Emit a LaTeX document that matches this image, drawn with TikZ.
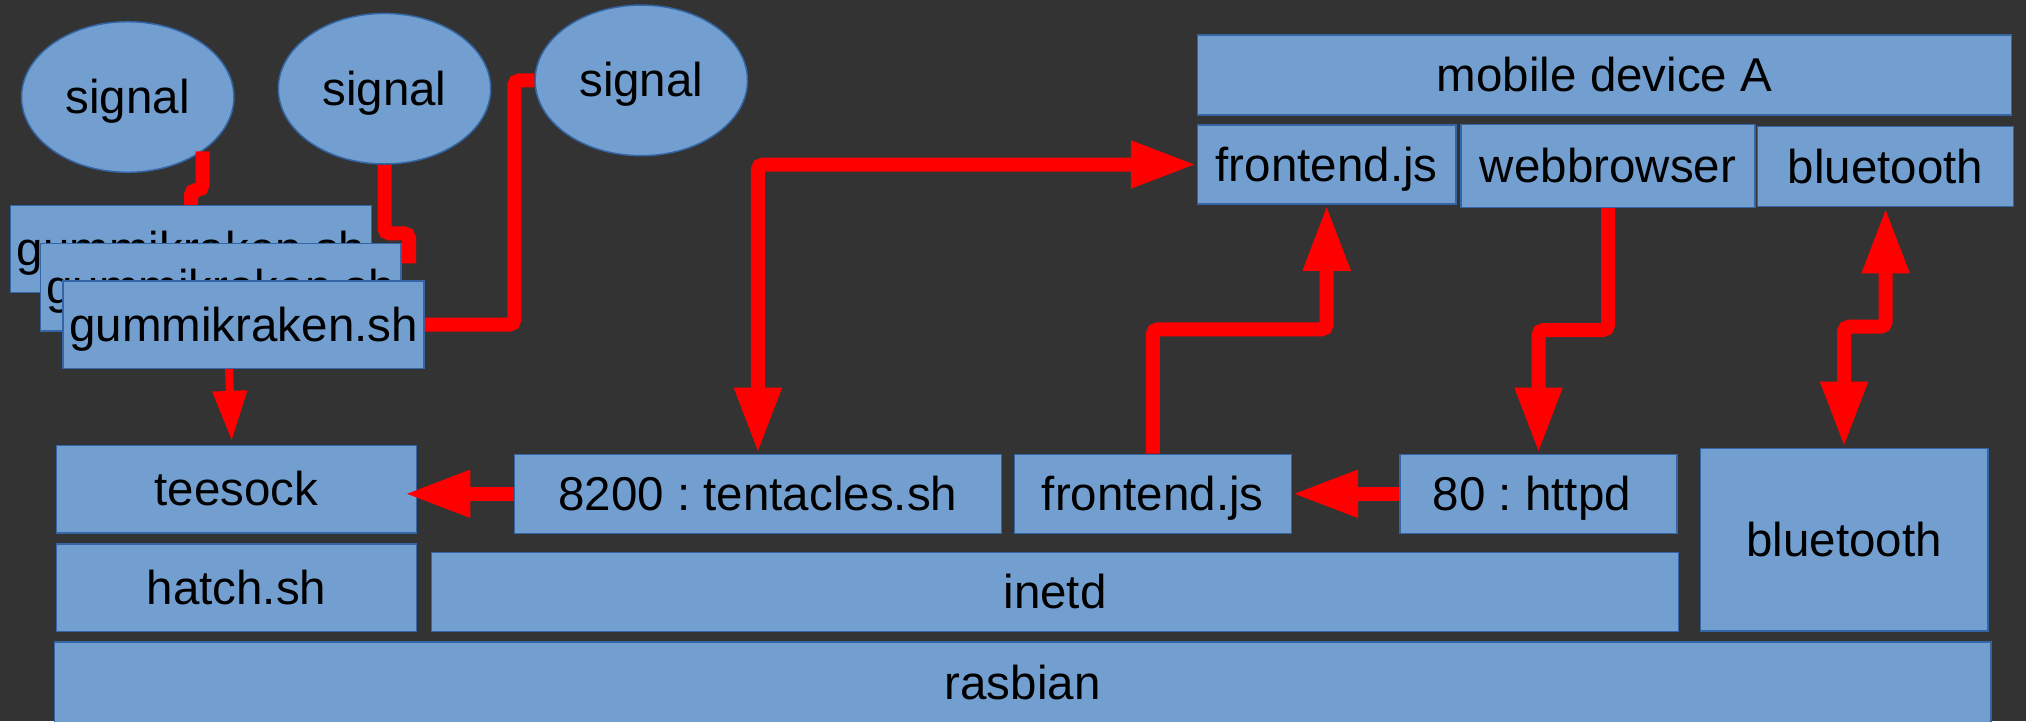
\documentclass[tikz,border=0pt]{standalone}
\usepackage{fontspec}
\setmainfont{Liberation Sans}
\frenchspacing
\usetikzlibrary{arrows.meta,shapes.geometric,calc}
\definecolor{bgc}{HTML}{333333}
\definecolor{boxfill}{HTML}{729FCF}
\definecolor{boxline}{HTML}{3465A4}
\definecolor{wire}{HTML}{FF0000}
\tikzset{
  blk/.style={rectangle, draw=boxline, fill=boxfill, line width=1.5pt, inner sep=0pt,
    font=\fontsize{47.5}{57}\selectfont\frenchspacing, text=black, text height=43pt, text depth=10pt},
  oval/.style={blk, ellipse, minimum width=212.4pt, minimum height=150.6pt},
  wireline/.style={draw=wire, line width=14pt, rounded corners=5pt},
  bigtip/.style={wireline, -{Triangle[length=66pt,width=44pt]}},
  bigtwo/.style={wireline, {Triangle[length=66pt,width=44pt]}-{Triangle[length=66pt,width=44pt]}},
  smalltip/.style={draw=wire, line width=8pt, -{Triangle[length=50pt,width=33pt]}}
}
\begin{document}
\begin{tikzpicture}[x=1pt,y=-1pt]
\clip (0,0) rectangle (2026,721);
\fill[bgc] (0,0) rectangle (2026,721);
\useasboundingbox (0,0) rectangle (2026,721);

% ellipses
\node[oval] (e1) at (127.7,97) {signal};
\node[oval] (e2) at (384.5,88.7) {signal};
\node[oval] (e3) at (641.3,80.4) {signal};

% stacked scripts
\node[blk, minimum width=360.7pt, minimum height=87pt] (g1) at (191.05,249.2) {gummikraken.sh};
\node[blk, minimum width=360.6pt, minimum height=87.7pt] (g2) at (220.7,287.15) {gummikraken.sh};
\node[blk, minimum width=360.8pt, minimum height=87.3pt] (g3) at (243.6,324.65) {gummikraken.sh};

% mobile device
\node[blk, minimum width=814.2pt, minimum height=80.1pt] (mob) at (1604.6,75) {mobile device A};
\node[blk, minimum width=258.3pt, minimum height=79pt] (fe1) at (1326.65,164.5) {frontend.js};
\node[blk, minimum width=294.4pt, minimum height=83pt] (web) at (1608,165.8) {webbrowser};
\node[blk, minimum width=255.8pt, minimum height=80pt] (bt1) at (1885.6,166.7) {bluetooth};

% host
\node[blk, minimum width=360.4pt, minimum height=87.3pt] (tee) at (236.5,489.35) {teesock};
\node[blk, minimum width=360.4pt, minimum height=87.5pt] (hatch) at (236.5,587.75) {hatch.sh};
\node[blk, minimum width=1936.7pt, minimum height=82pt] (ras) at (1022.65,683) {rasbian};
\node[blk, minimum width=1246.8pt, minimum height=79pt] (inetd) at (1055.1,592.2) {inetd};
\node[blk, minimum width=287.5pt, minimum height=182.7pt] (bt2) at (1844.05,539.65) {bluetooth};
\node[blk, minimum width=486.8pt, minimum height=79pt] (tent) at (757.9,493.8) {8200 : tentacles.sh};
\node[blk, minimum width=277pt, minimum height=79pt] (fe2) at (1152.8,493.8) {frontend.js};
\node[blk, minimum width=277pt, minimum height=79pt] (httpd) at (1538.5,493.8) {80 : httpd\hspace*{13pt}};

% helper coordinates
\coordinate (j1) at (0,329.3);
\coordinate (j2) at (0,330);
\coordinate (j6) at (0,326.7);
\coordinate (j3) at (0,190);
\coordinate (j4) at (0,233.3);
\coordinate (j5) at (514.3,0);
\coordinate (e2end) at (409,263.3);
\coordinate (gA) at ($(g3.south)+(-14.6,0)$);
\coordinate (gB) at ($(tee.north)+(-4.8,-4.1)$);
\coordinate (teeTip) at ($(tee.east)+(-13,0)$);

% connectors
\draw[wireline] (e1.-36) -- (e1.-36 |- j3) -| (g1.north);
\draw[wireline] (e2.south) -- (e2.south |- j4) -| (e2end);
\draw[wireline] (e3.west) -- (e3.west -| j5) |- (g3.east);
\draw[smalltip] (gA) -- (gB);
\draw[bigtip] (tent.west) -- (tent.west -| teeTip);
\draw[bigtip] (httpd.west) -- (httpd.west -| fe2.east);
\draw[bigtwo] (tent.north) |- (fe1.west);
\draw[bigtip] (fe2.north) -- (fe2.north |- j1) -| (fe1.south);
\draw[bigtip] (web.south) -- (web.south |- j2) -| (httpd.north);
\draw[bigtwo] (bt1.south) -- (bt1.south |- j6) -| (bt2.north);
\end{tikzpicture}
\end{document}
